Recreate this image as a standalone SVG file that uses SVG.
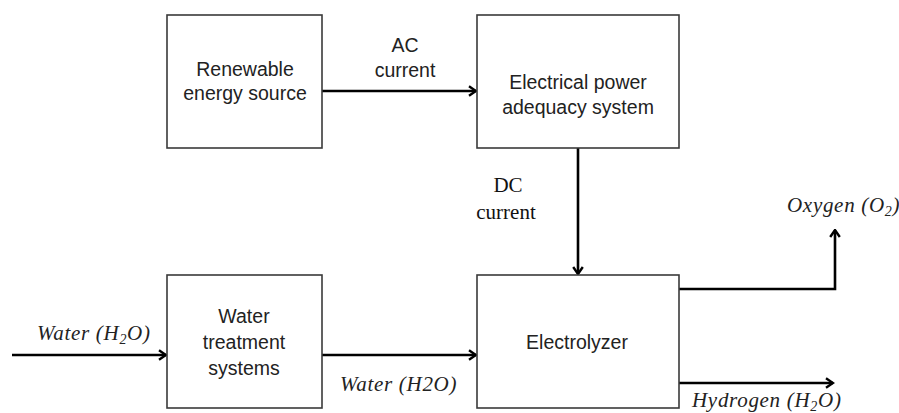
<svg xmlns="http://www.w3.org/2000/svg" width="899" height="413" viewBox="0 0 899 413">
<defs>
<style>
.box{fill:#fff;stroke:#3a3a3a;stroke-width:1.6}
.lbl{font-family:"Liberation Sans",Arial,sans-serif;font-size:19.5px;fill:#222;text-anchor:middle}
.ser{font-family:"Liberation Serif","Times New Roman",serif;font-size:21px;fill:#111;text-anchor:middle}
.it{font-family:"Liberation Serif","Times New Roman",serif;font-style:italic;font-size:21px;fill:#222;letter-spacing:0.7px}
.sub{font-size:14px}
.con{fill:none;stroke:#000;stroke-width:2.6}
</style>
<marker id="arr" viewBox="0 0 12 12" markerWidth="12" markerHeight="12" markerUnits="userSpaceOnUse" refX="10.5" refY="6" orient="auto">
<path d="M3.5,1.2 L10.5,6 L3.5,10.8" fill="none" stroke="#000" stroke-width="2.4"/>
</marker>
</defs>
<rect width="899" height="413" fill="#fff"/>

<g id="connectors">
<line class="con" x1="322" y1="91" x2="476" y2="91" marker-end="url(#arr)"/>
<line class="con" x1="578" y1="148" x2="578" y2="274" marker-end="url(#arr)"/>
<line class="con" x1="12" y1="355" x2="166" y2="355" marker-end="url(#arr)"/>
<line class="con" x1="322" y1="355" x2="476" y2="355" marker-end="url(#arr)"/>
<polyline class="con" points="679,289 835,289 835,230" marker-end="url(#arr)"/>
<line class="con" x1="679" y1="383" x2="833" y2="383" marker-end="url(#arr)"/>
<text class="lbl" x="405" y="52">AC</text>
<text class="lbl" x="405" y="77">current</text>
<text class="ser" x="508" y="192">DC</text>
<text class="ser" x="506" y="219">current</text>
<text class="it" x="37" y="340">Water (H<tspan class="sub" dy="4">2</tspan><tspan dy="-4">O)</tspan></text>
<text class="it" x="340" y="391">Water (H2O)</text>
<text class="it" x="787" y="212">Oxygen (O<tspan class="sub" dy="4">2</tspan><tspan dy="-4">)</tspan></text>
<text class="it" x="692" y="407">Hydrogen (H<tspan class="sub" dy="4">2</tspan><tspan dy="-4">O)</tspan></text>
</g>

<g id="renewable">
<rect class="box" x="167" y="15" width="155" height="133"/>
<text class="lbl" x="245" y="76">Renewable</text>
<text class="lbl" x="245" y="100">energy source</text>
</g>

<g id="power">
<rect class="box" x="477" y="15" width="202" height="133"/>
<text class="lbl" x="578" y="89">Electrical power</text>
<text class="lbl" x="578" y="114">adequacy system</text>
</g>

<g id="treatment">
<rect class="box" x="167" y="275" width="155" height="133"/>
<text class="lbl" x="244" y="323">Water</text>
<text class="lbl" x="244" y="349">treatment</text>
<text class="lbl" x="244" y="375">systems</text>
</g>

<g id="electrolyzer">
<rect class="box" x="477" y="275" width="202" height="133"/>
<text class="lbl" x="577" y="349">Electrolyzer</text>
</g>
</svg>
